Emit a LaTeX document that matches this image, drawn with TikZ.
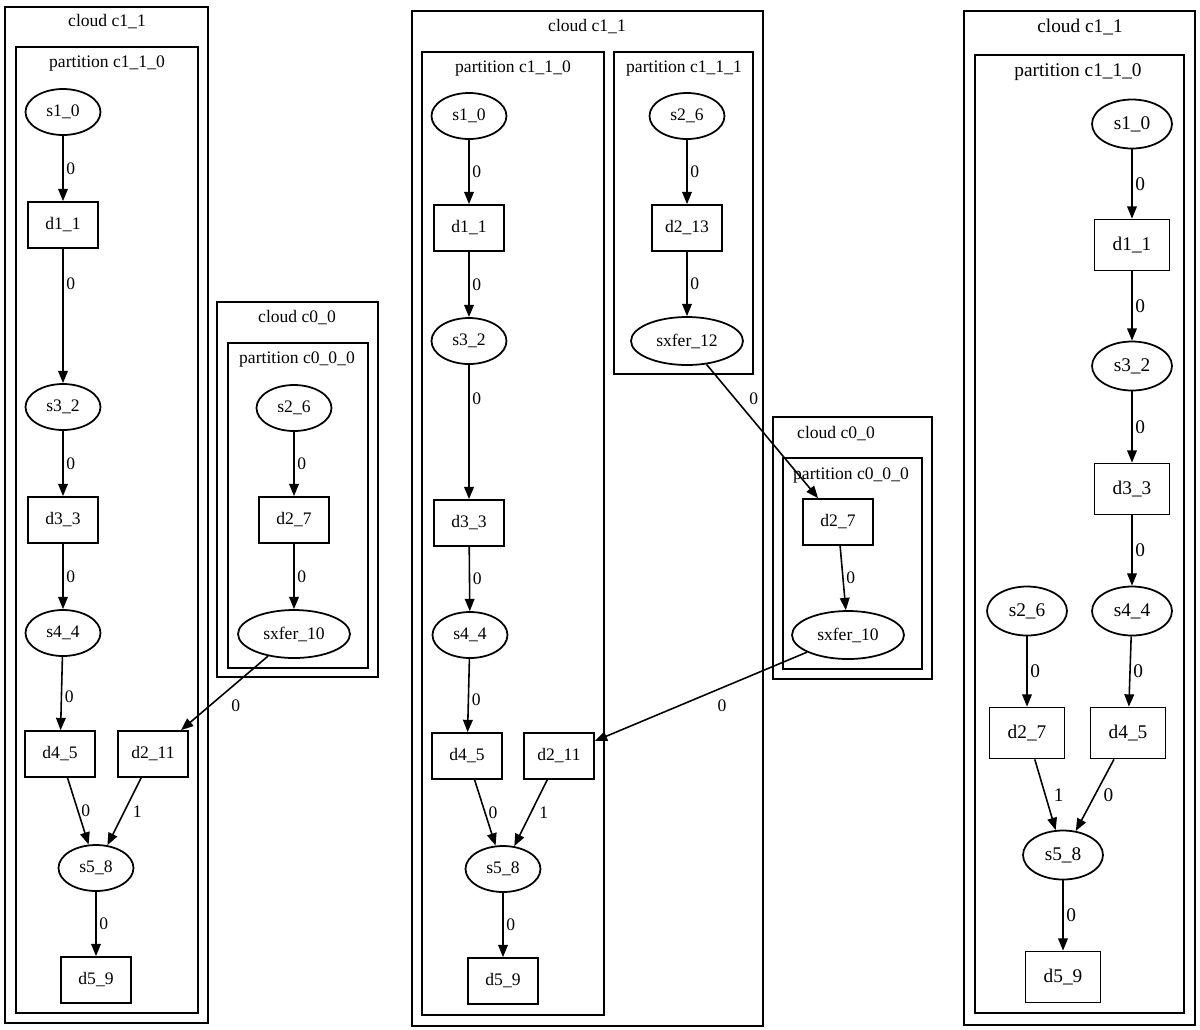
\documentclass[tikz,border=0pt]{standalone}
\usepackage{fontspec}
\setmainfont{Liberation Serif}
\usetikzlibrary{arrows.meta}
\usetikzlibrary{shapes.geometric}
\newcommand\nfont{\fontsize{10}{12}\selectfont}

\tikzset{
  snode/.style={draw, ellipse, line width=1pt, inner sep=0pt,
    minimum width=1.5cm, minimum height=0.92cm, font=\nfont},
  xnode/.style={snode, minimum width=2.24cm, minimum height=0.96cm},
  dnode/.style={draw, rectangle, line width=1pt, inner sep=0pt,
    minimum width=1.4cm, minimum height=0.92cm, font=\nfont},
  link/.style={-{Triangle[length=7pt,width=5.5pt]}, line width=0.9pt},
  elab/.style={font=\nfont, inner sep=1.5pt},
  clu/.style={line width=1.2pt},
  ttl/.style={font=\nfont, inner sep=0pt},
}

\begin{document}
\begin{tikzpicture}[x=0.02cm,y=-0.02cm]
\useasboundingbox (0,0) rectangle (1200,1029);

%%%%%%%%%% left: cloud c1_1
\draw[clu] (5,7) rectangle (208,1023);
\node[ttl] (Lc11) at (107,22) {cloud c1\_1};
\draw[clu] (16,47) rectangle (198,1013);
\node[ttl] (Lp110) at (107,64) {partition c1\_1\_0};

\node[snode] (Ls10) at (63,112) {s1\_0};
\node[dnode] (Ld11) at (63,225) {d1\_1};
\node[snode] (Ls32) at (63,407) {s3\_2};
\node[dnode] (Ld33) at (63,520) {d3\_3};
\node[snode] (Ls44) at (63,633) {s4\_4};
\node[dnode] (Ld45) at (60,754) {d4\_5};
\node[dnode] (Ld211) at (153,754) {d2\_11};
\node[snode] (Ls58) at (96,868) {s5\_8};
\node[dnode] (Ld59) at (96,980) {d5\_9};

%%%%%%%%%% left: cloud c0_0
\draw[clu] (217,302) rectangle (378,677);
\node[ttl] (Lc00) at (297,318) {cloud c0\_0};
\draw[clu] (228,343) rectangle (368,668);
\node[ttl] (Lp000) at (297,360) {partition c0\_0\_0};

\node[snode] (Ls26) at (294,408) {s2\_6};
\node[dnode] (Ld27) at (294,520) {d2\_7};
\node[xnode] (Lx10) at (294,634) {sxfer\_10};

\draw[link] (Ls10) -- (Ld11) node[elab,pos=0.5,right]{0};
\draw[link] (Ld11) -- (Ls32) node[elab,pos=0.26,right]{0};
\draw[link] (Ls32) -- (Ld33) node[elab,pos=0.5,right]{0};
\draw[link] (Ld33) -- (Ls44) node[elab,pos=0.5,right]{0};
\draw[link] (Ls44) -- (Ld45) node[elab,pos=0.55,right]{0};
\draw[link] (Ld45) -- (Ls58) node[elab,pos=0.5,right]{0};
\draw[link] (Ld211) -- (Ls58) node[elab,pos=0.5,right=3pt]{1};
\draw[link] (Ls58) -- (Ld59) node[elab,pos=0.5,right]{0};
\draw[link] (Ls26) -- (Ld27) node[elab,pos=0.5,right]{0};
\draw[link] (Ld27) -- (Lx10) node[elab,pos=0.5,right]{0};
\draw[link] (Lx10) -- (Ld211) node[elab,pos=0.5,below right=2pt]{0};

%%%%%%%%%% middle: cloud c1_1
\begin{scope}[shift={(410,0)}]
\draw[clu] (2,11) rectangle (353,1026);
\node[ttl] (Mc11) at (177,27) {cloud c1\_1};
\draw[clu] (12,52) rectangle (194,1015);
\node[ttl] (Mp110) at (103,69) {partition c1\_1\_0};
\draw[clu] (204,52) rectangle (343,374);
\node[ttl] (Mp111) at (274,69) {partition c1\_1\_1};

\node[snode] (Ms10) at (59,116) {s1\_0};
\node[dnode] (Md11) at (59,228) {d1\_1};
\node[snode] (Ms32) at (59,341) {s3\_2};
\node[dnode] (Md33) at (59,523) {d3\_3};
\node[snode] (Ms44) at (60,635) {s4\_4};
\node[dnode] (Md45) at (57,756) {d4\_5};
\node[dnode] (Md211) at (149,756) {d2\_11};
\node[snode] (Ms58) at (93,869) {s5\_8};
\node[dnode] (Md59) at (93,981) {d5\_9};

\node[snode] (Ms26) at (277,116) {s2\_6};
\node[dnode] (Md213) at (277,228) {d2\_13};
\node[xnode] (Mx12) at (277,341) {sxfer\_12};

%%%%%%%%%% middle: cloud c0_0
\draw[clu] (363,417) rectangle (522,679);
\node[ttl] (Mc00) at (426,434) {cloud c0\_0};
\draw[clu] (373,458) rectangle (512,669);
\node[ttl] (Mp000) at (441,476) {partition c0\_0\_0};

\node[dnode] (Md27) at (428,522) {d2\_7};
\node[xnode] (Mx10) at (438,635) {sxfer\_10};

\draw[link] (Ms10) -- (Md11) node[elab,pos=0.5,right]{0};
\draw[link] (Md11) -- (Ms32) node[elab,pos=0.5,right]{0};
\draw[link] (Ms32) -- (Md33) node[elab,pos=0.25,right]{0};
\draw[link] (Md33) -- (Ms44) node[elab,pos=0.5,right]{0};
\draw[link] (Ms44) -- (Md45) node[elab,pos=0.56,right]{0};
\draw[link] (Md45) -- (Ms58) node[elab,pos=0.5,right]{0};
\draw[link] (Md211) -- (Ms58) node[elab,pos=0.5,right=3pt]{1};
\draw[link] (Ms58) -- (Md59) node[elab,pos=0.5,right]{0};
\draw[link] (Ms26) -- (Md213) node[elab,pos=0.5,right]{0};
\draw[link] (Md213) -- (Mx12) node[elab,pos=0.5,right]{0};
\draw[link] (Mx12) -- (Md27) node[elab,pos=0.26,right=6pt]{0};
\draw[link] (Md27) -- (Mx10) node[elab,pos=0.5,right]{0};
\draw[link] (Mx10) -- (Md211) node[elab,pos=0.4,below=5pt]{0};
\end{scope}

%%%%%%%%%% right: cloud c1_1
\begin{scope}[shift={(960,0)},
  snode/.append style={minimum width=1.6cm, minimum height=0.98cm},
  dnode/.append style={minimum width=1.5cm, minimum height=1.02cm}]
\renewcommand\nfont{\fontsize{11}{13}\selectfont}
\draw[clu] (4,11) rectangle (235,1025);
\node[ttl] (Rc11) at (120,27) {cloud c1\_1};
\draw[clu] (15,55) rectangle (224,1013);
\node[ttl] (Rp110) at (118,72) {partition c1\_1\_0};

\node[snode] (Rs10) at (172,124) {s1\_0};
\node[dnode] (Rd11) at (172,245) {d1\_1};
\node[snode] (Rs32) at (172,366) {s3\_2};
\node[dnode] (Rd33) at (172,489) {d3\_3};
\node[snode] (Rs44) at (172,611) {s4\_4};
\node[snode] (Rs26) at (67,611) {s2\_6};
\node[dnode] (Rd27) at (67,733) {d2\_7};
\node[dnode] (Rd45) at (168,733) {d4\_5};
\node[snode] (Rs58) at (103,855) {s5\_8};
\node[dnode] (Rd59) at (103,977) {d5\_9};

\draw[link] (Rs10) -- (Rd11) node[elab,pos=0.5,right]{0};
\draw[link] (Rd11) -- (Rs32) node[elab,pos=0.5,right]{0};
\draw[link] (Rs32) -- (Rd33) node[elab,pos=0.5,right]{0};
\draw[link] (Rd33) -- (Rs44) node[elab,pos=0.5,right]{0};
\draw[link] (Rs26) -- (Rd27) node[elab,pos=0.5,right]{0};
\draw[link] (Rs44) -- (Rd45) node[elab,pos=0.5,right]{0};
\draw[link] (Rd27) -- (Rs58) node[elab,pos=0.5,right=3pt]{1};
\draw[link] (Rd45) -- (Rs58) node[elab,pos=0.5,right=3pt]{0};
\draw[link] (Rs58) -- (Rd59) node[elab,pos=0.5,right]{0};
\end{scope}

\end{tikzpicture}
\end{document}
